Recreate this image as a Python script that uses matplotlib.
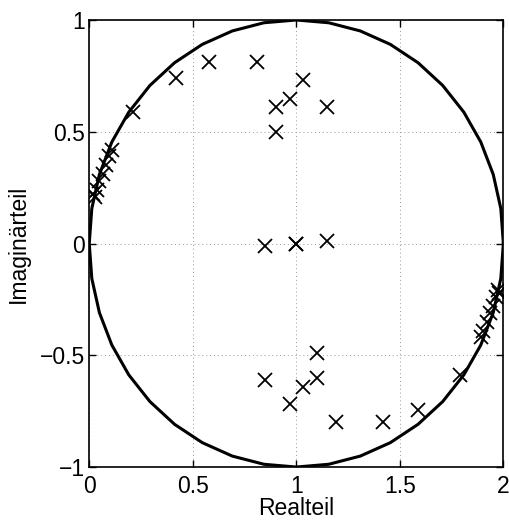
import matplotlib.pyplot as plt
import numpy as np

plt.rcParams['font.family'] = ['Liberation Sans', 'DejaVu Sans']

# Nullstellen (Real- und Imaginärteil)
re_teil = [0.58, 0.81, 1.03, 0.97, 0.90, 0.90, 1.15, 0.42, 0.21,
           1.42, 1.19, 0.97, 1.03, 1.10, 1.10, 0.85, 1.59, 1.79,
           0.85, 1.00, 1.00, 1.15,
           0.11, 0.096, 0.08, 0.064, 0.048, 0.037, 0.027, 0.02,
           1.89, 1.904, 1.92, 1.936, 1.952, 1.963, 1.973, 1.98]
im_teil = [0.81, 0.81, 0.73, 0.645, 0.61, 0.50, 0.61, 0.74, 0.59,
           -0.80, -0.80, -0.72, -0.64, -0.60, -0.49, -0.61, -0.745, -0.59,
           -0.01, 0.0, 0.0, 0.01,
           0.42, 0.39, 0.35, 0.31, 0.28, 0.24, 0.21, 0.22,
           -0.42, -0.39, -0.35, -0.31, -0.28, -0.24, -0.21, -0.22]

x_ticks = [0, 0.5, 1, 1.5, 2]
y_ticks = [-1, -0.5, 0, 0.5, 1]

# Kreis um (1, 0) mit Radius 1
phi = np.linspace(0, 2 * np.pi, 41)
kx = 1 + np.cos(phi)
ky = np.sin(phi)

fig = plt.figure(figsize=(5.1, 5.21), dpi=100)
ax = fig.add_axes([0.175, 0.1036, 0.812, 0.858])

ax.plot(kx, ky, color='black', linewidth=2.2)
ax.plot(re_teil, im_teil, linestyle='none', marker='x', color='black',
        markersize=10, markeredgewidth=1.3)

ax.set_xlim(0, 2)
ax.set_ylim(-1, 1)
ax.set_xticks(x_ticks)
ax.set_yticks(y_ticks)
ax.set_xticklabels(['0', '0.5', '1', '1.5', '2'])
ax.set_yticklabels(['\u22121', '\u22120.5', '0', '0.5', '1'])
ax.grid(True, linestyle=(0, (1, 3)), color='#999999', linewidth=0.7)
ax.tick_params(direction='in', top=True, right=True, labelsize=16.5,
               length=5, width=1)
ax.tick_params(axis='x', pad=6)
ax.tick_params(axis='y', pad=3)
for s in ax.spines.values():
    s.set_linewidth(1.2)

ax.set_xlabel('Realteil', fontsize=16.5, labelpad=-1)
ax.set_ylabel('Imaginärteil', fontsize=16.5, labelpad=7)

fig.savefig('out.png', dpi=100)
